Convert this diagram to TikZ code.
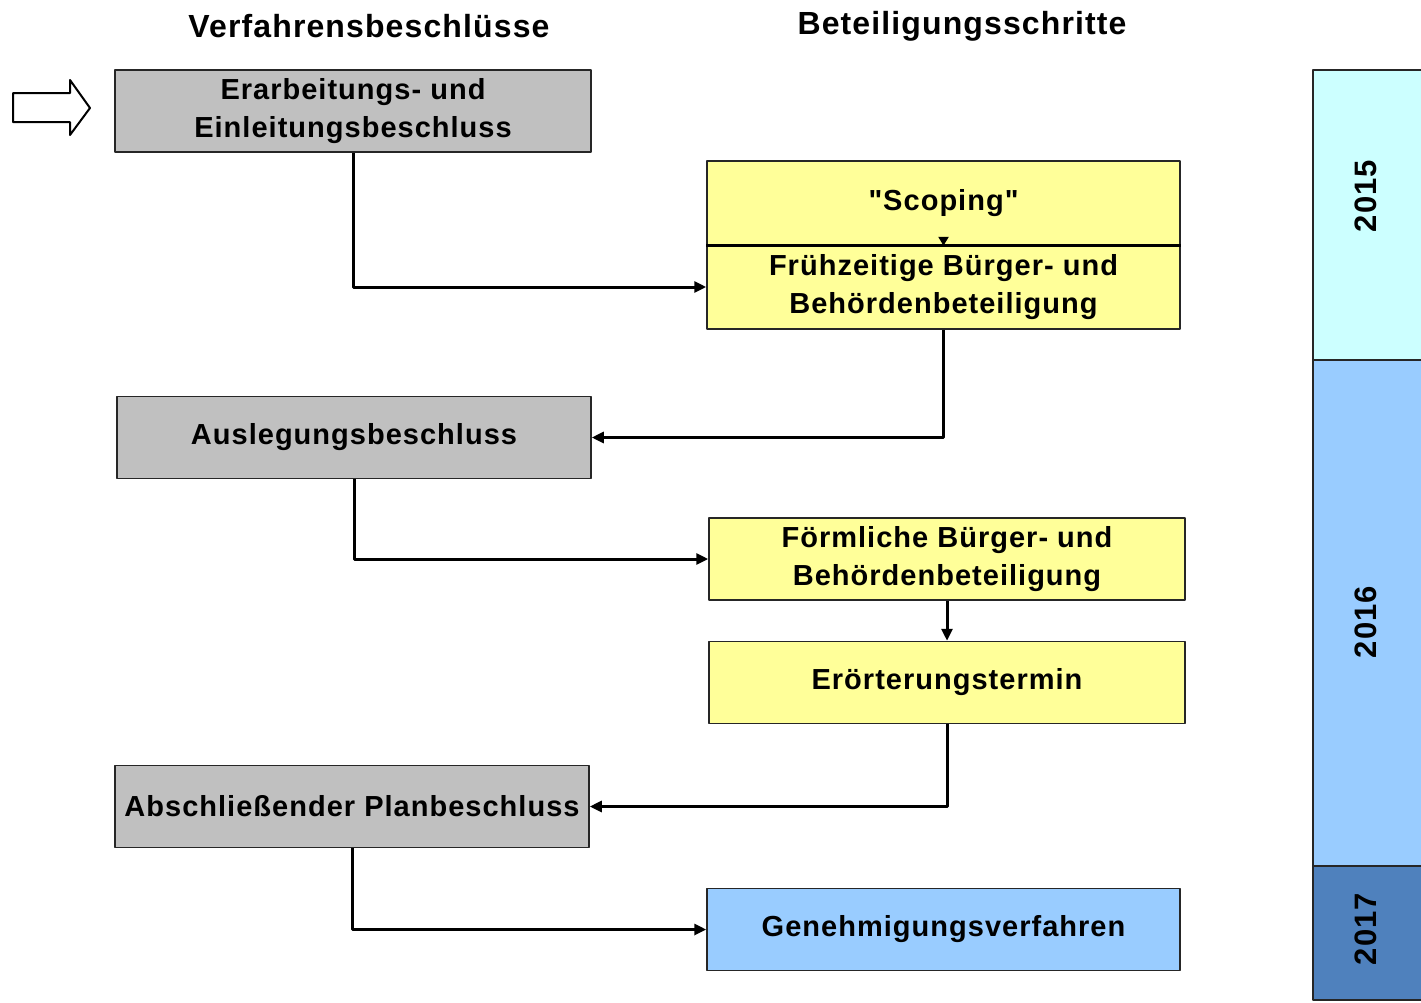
\documentclass[tikz,border=0pt]{standalone}
\usepackage{fontspec}
\setmainfont{Liberation Sans}[Ligatures=TeXOff,LetterSpace=3.5]
\usetikzlibrary{arrows.meta}
\definecolor{grau}{HTML}{C0C0C0}
\definecolor{gelb}{HTML}{FFFF99}
\definecolor{hellblau}{HTML}{99CCFF}
\definecolor{tuerkis}{HTML}{CCFFFF}
\definecolor{dunkelblau}{HTML}{4F81BD}
\begin{document}
\begin{tikzpicture}[x=1pt,y=-1pt,line join=round,
	>={Triangle[length=12pt,width=11pt]},
	kasten/.style={draw=black!85,line width=1.5pt,align=center,inner sep=0pt,
		font=\fontsize{29}{38}\selectfont\bfseries},
	links/.style={kasten,fill=grau,minimum width=476pt,minimum height=82pt},
	rechts/.style={kasten,fill=gelb,minimum width=476pt,minimum height=82pt},
	fluss/.style={->,line width=3pt},
	kopf/.style={font=\fontsize{32}{38}\selectfont\bfseries},
	jahr/.style={rotate=90,font=\fontsize{31}{36}\selectfont\bfseries},
	balken/.style={draw=black!85,line width=2pt}]
	\useasboundingbox (0,0) rectangle (1421,1002);
	\def\xa{1313} % linker Rand Zeitleiste
	\def\xb{1430} % rechter Rand (abgeschnitten)
	% Ueberschriften
	\node[kopf] (kopflinks) at (369,26) {Verfahrensbeschlüsse};
	\node[kopf] (kopfrechts) at (962,26) {Beteiligungsschritte};
	% Startpfeil
	\draw[line width=2pt,fill=white] (13,93)--(70,93)--(70,80)--(90,108)--(70,135)--(70,122)--(13,122)--cycle;
	% Beschluesse links
	\node[links] (erarbeitung) at (353,111) {Erarbeitungs- und\\Einleitungsbeschluss};
	\node[links,minimum width=474pt] (auslegung) at (354,437.5) {Auslegungsbeschluss};
	\node[links,minimum width=474pt] (abschluss) at (352,806.5) {Abschließender Planbeschluss};
	% Beteiligungsschritte rechts
	\node[rechts,minimum width=473pt,minimum height=84pt] (scoping) at (943.5,203) {"Scoping"};
	\node[rechts,minimum width=473pt,minimum height=84pt] (fruehzeitig) at (943.5,287) {Frühzeitige Bürger- und\\Behördenbeteiligung};
	\draw[line width=3pt] (scoping.south west)--(scoping.south east);
	\draw[fluss,>={Triangle[length=9pt,width=10pt]}] ([yshift=9pt]scoping.south)--(scoping.south);
	\node[rechts] (foermlich) at (947,559) {Förmliche Bürger- und\\Behördenbeteiligung};
	\node[rechts] (eroerterung) at (947,682.5) {Erörterungstermin};
	\node[rechts,fill=hellblau,minimum width=473pt] (genehmigung) at (943.5,929.5) {Genehmigungsverfahren};
	% Verbindungen
	\draw[fluss] (erarbeitung.south) |- (fruehzeitig.west);
	\draw[fluss] (fruehzeitig.south) |- (auslegung.east);
	\draw[fluss] (auslegung.south) |- (foermlich.west);
	\draw[fluss] (foermlich.south) -- (foermlich.south|-eroerterung.north);
	\draw[fluss] (eroerterung.south) |- (abschluss.east);
	\draw[fluss] (abschluss.south) |- (genehmigung.west);
	% Zeitleiste
	\draw[balken,fill=tuerkis] (\xa,70) rectangle (\xb,360);
	\draw[balken,fill=hellblau] (\xa,360) rectangle (\xb,866);
	\draw[balken,fill=dunkelblau] (\xa,866) rectangle (\xb,1000);
	\node[jahr] (j2015) at (1366,196) {2015};
	\node[jahr] (j2016) at (1366,622) {2016};
	\node[jahr] (j2017) at (1366,929) {2017};
\end{tikzpicture}
\end{document}
